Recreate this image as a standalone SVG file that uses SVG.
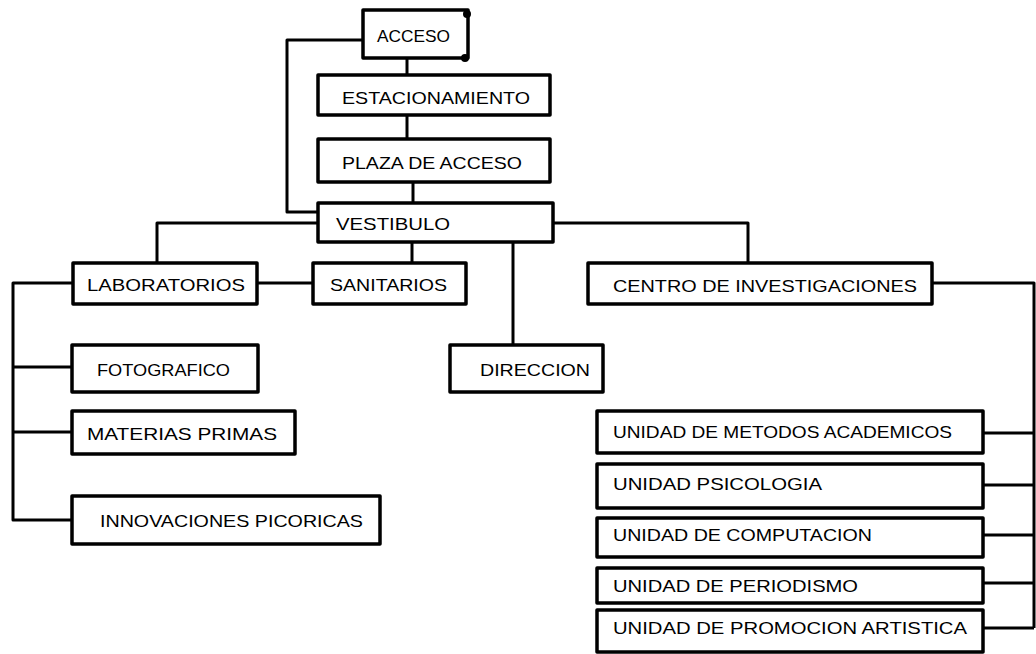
<svg xmlns="http://www.w3.org/2000/svg" width="1036" height="654" viewBox="0 0 1036 654">
<style>
.b{fill:#fff;stroke:#000;stroke-width:3.5;stroke-linejoin:round}
.c{fill:none;stroke:#000;stroke-width:3;stroke-linejoin:round}
.t{font-family:"Liberation Sans",Arial,sans-serif;font-size:17px;fill:#000}
</style>
<rect width="1036" height="654" fill="#fff"/>
<g id="connectors" class="c">
<path d="M363 40 H287 V212 H318"/>
<path d="M407 58 V75"/>
<path d="M407 115 V139"/>
<path d="M413 182 V203"/>
<path d="M318 223 H157 V263"/>
<path d="M553 223 H748 V263"/>
<path d="M412 242 V263"/>
<path d="M513 242 V345"/>
<path d="M257 283 H313"/>
<path d="M73 283 H13 V520 H73"/>
<path d="M13 367 H72"/>
<path d="M13 432 H72"/>
<path d="M932 283 H1034 V628"/>
<path d="M983 433 H1034"/>
<path d="M983 485 H1034"/>
<path d="M983 535 H1034"/>
<path d="M983 583 H1034"/>
<path d="M983 628 H1034"/>
</g>
<g id="acceso"><rect class="b" x="363" y="10" width="105" height="48"/><circle cx="467" cy="14" r="4"/><circle cx="465" cy="58" r="4"/><text class="t" x="377" y="42" textLength="73" lengthAdjust="spacingAndGlyphs">ACCESO</text></g>
<g id="estacionamiento"><rect class="b" x="318" y="75" width="232" height="40"/><text class="t" x="342" y="104" textLength="188" lengthAdjust="spacingAndGlyphs">ESTACIONAMIENTO</text></g>
<g id="plaza"><rect class="b" x="318" y="139" width="232" height="43"/><text class="t" x="342" y="169" textLength="180" lengthAdjust="spacingAndGlyphs">PLAZA DE ACCESO</text></g>
<g id="vestibulo"><rect class="b" x="318" y="203" width="235" height="39"/><text class="t" x="336" y="230" textLength="114" lengthAdjust="spacingAndGlyphs">VESTIBULO</text></g>
<g id="laboratorios"><rect class="b" x="73" y="263" width="184" height="41"/><text class="t" x="87" y="291" textLength="158" lengthAdjust="spacingAndGlyphs">LABORATORIOS</text></g>
<g id="sanitarios"><rect class="b" x="313" y="263" width="153" height="41"/><text class="t" x="330" y="291" textLength="117" lengthAdjust="spacingAndGlyphs">SANITARIOS</text></g>
<g id="centro"><rect class="b" x="588" y="263" width="344" height="41"/><text class="t" x="613" y="292" textLength="304" lengthAdjust="spacingAndGlyphs">CENTRO DE INVESTIGACIONES</text></g>
<g id="direccion"><rect class="b" x="450" y="345" width="153" height="47"/><text class="t" x="480" y="376" textLength="110" lengthAdjust="spacingAndGlyphs">DIRECCION</text></g>
<g id="fotografico"><rect class="b" x="72" y="345" width="186" height="47"/><text class="t" x="97" y="376" textLength="133" lengthAdjust="spacingAndGlyphs">FOTOGRAFICO</text></g>
<g id="materias"><rect class="b" x="72" y="411" width="223" height="43"/><text class="t" x="87" y="440" textLength="190" lengthAdjust="spacingAndGlyphs">MATERIAS PRIMAS</text></g>
<g id="innovaciones"><rect class="b" x="72" y="496" width="308" height="48"/><text class="t" x="100" y="527" textLength="263" lengthAdjust="spacingAndGlyphs">INNOVACIONES PICORICAS</text></g>
<g id="metodos"><rect class="b" x="597" y="411" width="386" height="42"/><text class="t" x="613" y="438" textLength="339" lengthAdjust="spacingAndGlyphs">UNIDAD DE METODOS ACADEMICOS</text></g>
<g id="psicologia"><rect class="b" x="597" y="464" width="386" height="44"/><text class="t" x="613" y="490" textLength="209" lengthAdjust="spacingAndGlyphs">UNIDAD PSICOLOGIA</text></g>
<g id="computacion"><rect class="b" x="597" y="518" width="386" height="39"/><text class="t" x="613" y="541" textLength="259" lengthAdjust="spacingAndGlyphs">UNIDAD DE COMPUTACION</text></g>
<g id="periodismo"><rect class="b" x="597" y="568" width="386" height="35"/><text class="t" x="613" y="592" textLength="245" lengthAdjust="spacingAndGlyphs">UNIDAD DE PERIODISMO</text></g>
<g id="promocion"><rect class="b" x="597" y="610" width="386" height="42"/><text class="t" x="613" y="634" textLength="354" lengthAdjust="spacingAndGlyphs">UNIDAD DE PROMOCION ARTISTICA</text></g>
</svg>
